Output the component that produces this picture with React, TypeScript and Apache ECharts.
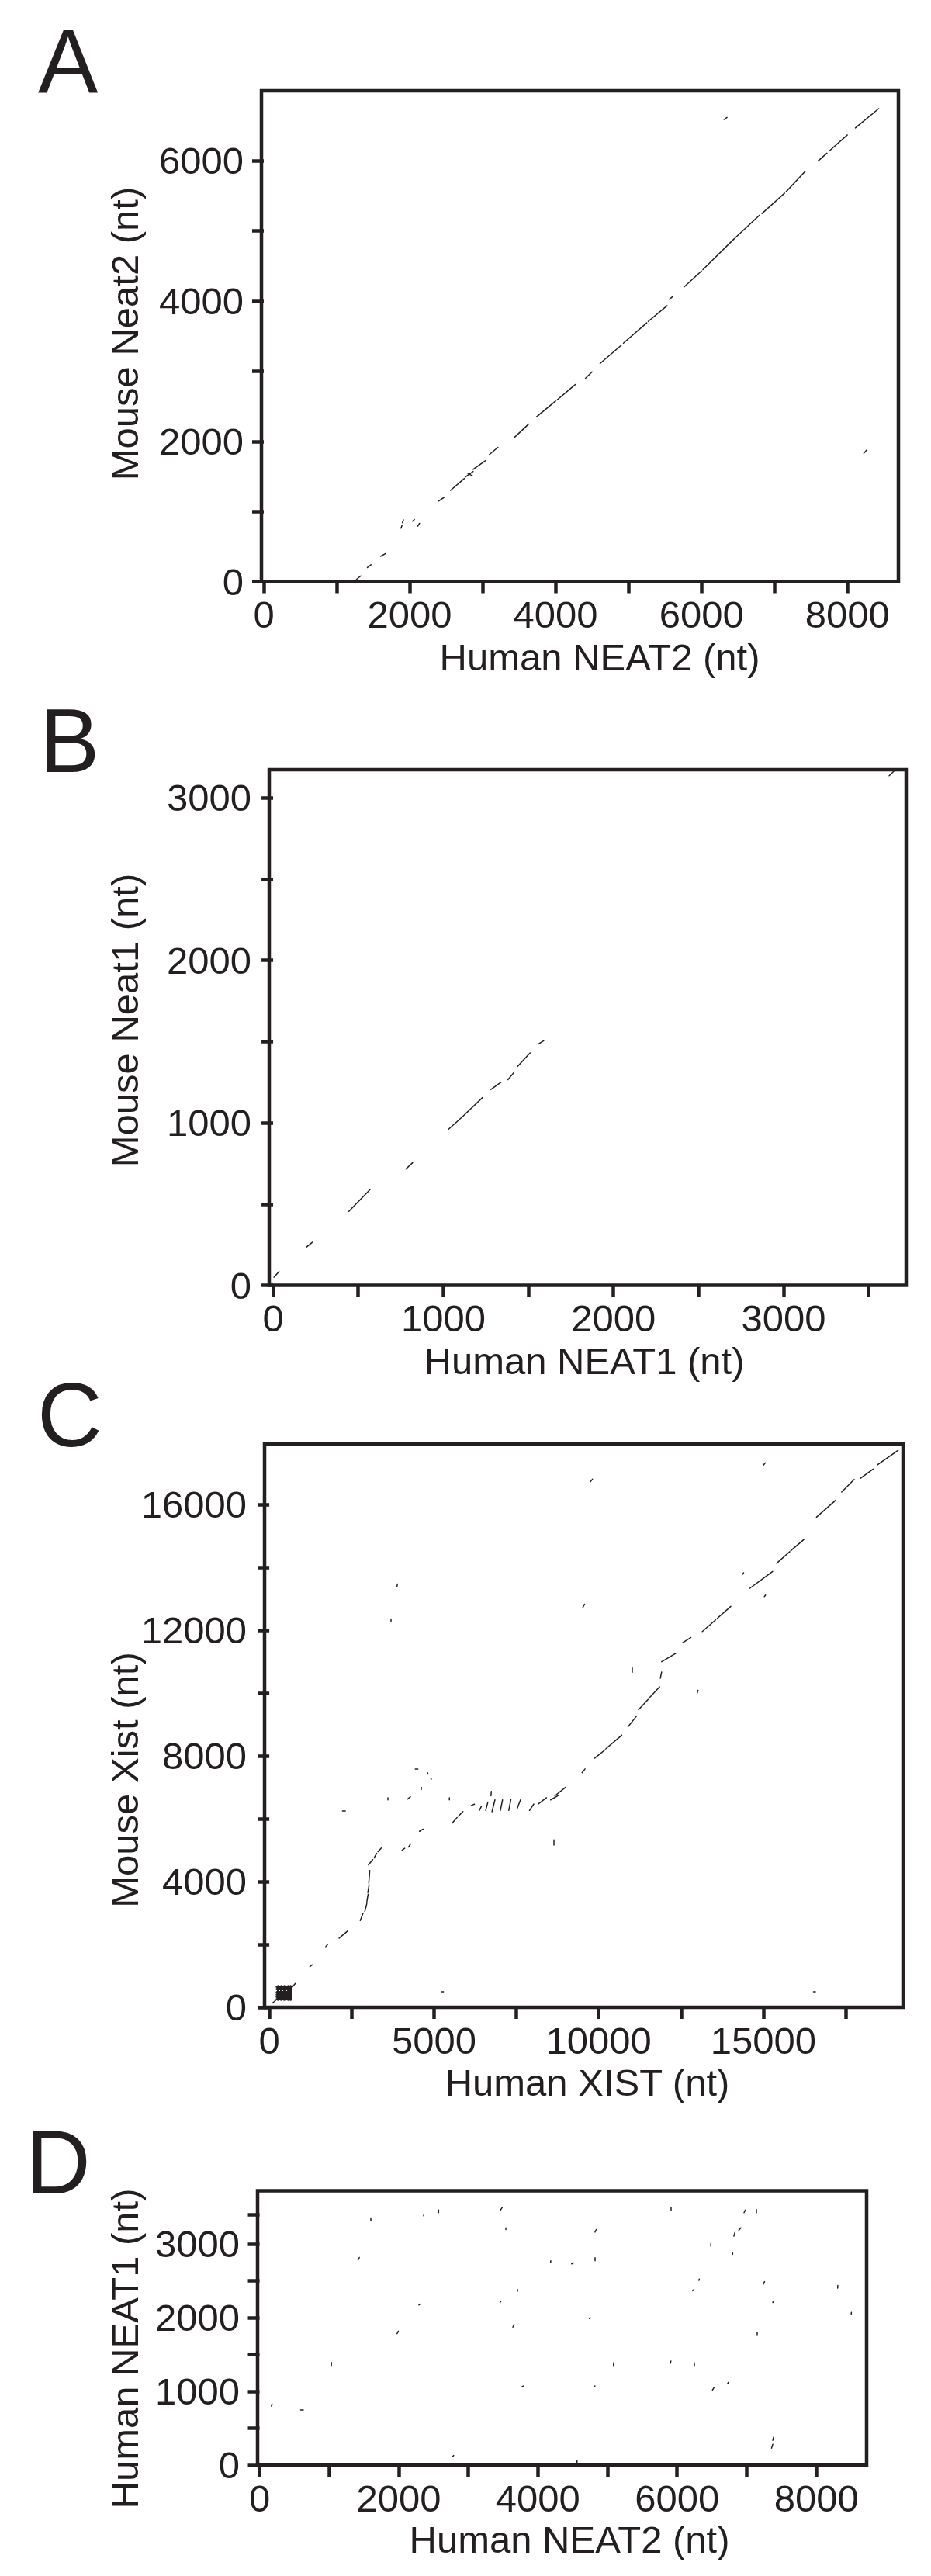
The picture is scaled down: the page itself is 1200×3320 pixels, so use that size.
import React, { useEffect, useRef } from "react";
import * as echarts from "echarts";

const INK = "#231f20";
const FONT = '"Liberation Sans", Arial, Helvetica, sans-serif';

// ---------- Panel A : Human NEAT2 (x) vs Mouse Neat2 (y), dot-plot segments [x1, y1, x2, y2] in nt
const neat2Segments = [
  [1270, 30, 1330, 80],
  [1420, 200, 1470, 240],
  [1600, 360, 1670, 400],
  [1880, 760, 1895, 800],
  [1900, 840, 1915, 880],
  [2040, 860, 2065, 885],
  [2110, 790, 2135, 830],
  [2400, 1150, 2470, 1200],
  [2560, 1300, 2750, 1470],
  [2760, 1490, 2870, 1570],
  [2800, 1540, 2860, 1510],
  [2870, 1600, 3040, 1725],
  [3090, 1810, 3210, 1915],
  [3440, 2060, 3630, 2245],
  [3740, 2350, 4000, 2575],
  [4020, 2590, 4270, 2810],
  [4410, 2900, 4500, 2990],
  [4610, 3110, 4900, 3370],
  [4930, 3400, 5250, 3690],
  [5270, 3710, 5530, 3935],
  [5560, 4025, 5600, 4060],
  [5760, 4200, 6000, 4430],
  [6020, 4450, 6450, 4890],
  [6460, 4900, 6800, 5230],
  [6830, 5250, 7140, 5540],
  [7160, 5560, 7420, 5850],
  [7600, 6000, 7720, 6110],
  [7750, 6140, 8000, 6370],
  [8110, 6470, 8430, 6745],
  [6310, 6590, 6350, 6620],
  [8225, 1830, 8265, 1875],
];

// ---------- Panel B : Human NEAT1 (x) vs Mouse Neat1 (y)
const neat1Segments = [
  [5, 50, 35, 85],
  [195, 235, 230, 265],
  [445, 455, 570, 590],
  [780, 715, 820, 755],
  [1030, 960, 1110, 1035],
  [1115, 1040, 1230, 1155],
  [1280, 1205, 1340, 1250],
  [1380, 1265, 1415, 1310],
  [1435, 1345, 1510, 1430],
  [1560, 1485, 1590, 1505],
  [3620, 3135, 3650, 3165],
];

// ---------- Panel C : Human XIST (x) vs Mouse Xist (y)
const xistSegments = [
  [90, 130, 215, 240],
  [660, 600, 790, 760],
  [1230, 1290, 1300, 1350],
  [1715, 1930, 1770, 2000],
  [2120, 2200, 2380, 2430],
  [2760, 2760, 2850, 3000],
  [2900, 3050, 2960, 3300],
  [2960, 3350, 3000, 3600],
  [2990, 3650, 3030, 3900],
  [3020, 3950, 3050, 4350],
  [3010, 4530, 3140, 4700],
  [3180, 4750, 3260, 4900],
  [3300, 4950, 3400, 5070],
  [4030, 5000, 4110, 5060],
  [4230, 5100, 4290, 5200],
  [4560, 5600, 4670, 5670],
  [5550, 5860, 5700, 6040],
  [5740, 6080, 5880, 6230],
  [6130, 6425, 6230, 6465],
  [6380, 6270, 6440, 6400],
  [6570, 6265, 6635, 6530],
  [6730, 6730, 6740, 6870],
  [6760, 6225, 6850, 6600],
  [7015, 6265, 7080, 6600],
  [7270, 6265, 7335, 6625],
  [7525, 6330, 7625, 6600],
  [7900, 6265, 8030, 6470],
  [8160, 6470, 8415, 6670],
  [8540, 6600, 8800, 6760],
  [8670, 6730, 8990, 7000],
  [8630, 5160, 8632, 5330],
  [9495, 7465, 9585, 7585],
  [9880, 7930, 10200, 8200],
  [10220, 8230, 10700, 8660],
  [10890, 8930, 11150, 9270],
  [11210, 9470, 11500, 9800],
  [11520, 9830, 11850, 10200],
  [11870, 10470, 11910, 10670],
  [11910, 11000, 12350, 11270],
  [12545, 11600, 12800, 11770],
  [13145, 11960, 13550, 12330],
  [13600, 12380, 14010, 12760],
  [14360, 13770, 14400, 13830],
  [14580, 13330, 15280, 13870],
  [15030, 13070, 15065, 13120],
  [15400, 14130, 15800, 14500],
  [15830, 14530, 16230, 14890],
  [16610, 15600, 17185, 16130],
  [17375, 16400, 17755, 16800],
  [17950, 16840, 18330, 17130],
  [18455, 17260, 19090, 17730],
  [9750, 16730, 9810, 16810],
  [15000, 17260, 15060, 17330],
  [3877, 13400, 3890, 13470],
  [3686, 12270, 3688, 12360],
  [9520, 12730, 9570, 12830],
  [11020, 10660, 11022, 10800],
  [12990, 10000, 13015, 10090],
  [2220, 6266, 2310, 6266],
  [3584, 6600, 3586, 6670],
  [4195, 6625, 4285, 6700],
  [4430, 7600, 4510, 7600],
  [4800, 7470, 4820, 7420],
  [4900, 7300, 4920, 7260],
  [4600, 6930, 4605, 7000],
  [5466, 6600, 5468, 6670],
  [5230, 490, 5290, 500],
  [16520, 490, 16580, 500],
];
// dense repeat cluster near the XIST 5' end
const xistCluster = [
  [230, 260, 660, 260],
  [230, 340, 660, 340],
  [230, 420, 660, 420],
  [230, 500, 660, 500],
  [230, 580, 660, 580],
  [230, 650, 660, 650],
  [260, 240, 260, 670],
  [360, 240, 360, 670],
  [460, 240, 460, 670],
  [560, 240, 560, 670],
  [640, 240, 640, 670],
];

// ---------- Panel D : Human NEAT2 (x) vs Human NEAT1 (y)
const neat2Neat1Segments = [
  [170, 800, 180, 830],
  [590, 750, 630, 754],
  [1032, 1350, 1034, 1390],
  [1415, 2780, 1435, 2815],
  [1599, 3310, 1601, 3352],
  [1976, 1782, 1995, 1817],
  [2290, 2170, 2305, 2182],
  [2358, 3380, 2362, 3400],
  [2572, 3423, 2574, 3460],
  [2773, 116, 2790, 130],
  [3457, 3451, 3487, 3493],
  [3540, 3194, 3542, 3218],
  [3457, 2206, 3469, 2223],
  [3640, 1870, 3658, 1906],
  [3705, 2357, 3707, 2382],
  [3770, 1062, 3790, 1073],
  [4183, 2745, 4185, 2770],
  [4484, 2728, 4514, 2742],
  [4821, 2770, 4823, 2813],
  [4820, 3158, 4839, 3194],
  [4738, 1987, 4750, 2001],
  [4809, 1062, 4821, 1073],
  [4561, 25, 4563, 60],
  [5086, 1350, 5088, 1387],
  [5912, 3451, 5914, 3493],
  [5900, 1376, 5912, 1411],
  [6242, 1350, 6244, 1387],
  [6225, 2364, 6242, 2382],
  [6313, 2505, 6319, 2523],
  [6484, 2971, 6486, 3006],
  [6508, 1016, 6531, 1051],
  [6726, 1105, 6738, 1122],
  [6797, 2858, 6799, 2876],
  [6815, 3105, 6832, 3158],
  [6886, 3183, 6916, 3218],
  [6962, 3423, 6980, 3458],
  [7139, 3423, 7141, 3465],
  [7239, 2453, 7257, 2488],
  [7375, 2206, 7392, 2223],
  [7145, 1757, 7147, 1800],
  [7375, 335, 7387, 380],
  [7357, 230, 7375, 282],
  [8307, 2400, 8309, 2435],
  [8502, 2047, 8504, 2071],
];

// ---------- axis ticks / labels
const neat2Ticks = [0, 1000, 2000, 3000, 4000, 5000, 6000, 7000, 8000];
const neat2Labels = [0, 2000, 4000, 6000, 8000];
const mouseNeat2Ticks = [0, 1000, 2000, 3000, 4000, 5000, 6000];
const mouseNeat2Labels = [0, 2000, 4000, 6000];
const neat1Ticks = [0, 500, 1000, 1500, 2000, 2500, 3000, 3500];
const neat1Labels = [0, 1000, 2000, 3000];
const mouseNeat1Ticks = [0, 500, 1000, 1500, 2000, 2500, 3000];
const mouseNeat1Labels = [0, 1000, 2000, 3000];
const xistTicks = [0, 2500, 5000, 7500, 10000, 12500, 15000, 17500];
const xistLabels = [0, 5000, 10000, 15000];
const mouseXistTicks = [0, 2000, 4000, 6000, 8000, 10000, 12000, 14000, 16000];
const mouseXistLabels = [0, 4000, 8000, 12000, 16000];
const humanNeat1Ticks = [0, 500, 1000, 1500, 2000, 2500, 3000, 3400];
const humanNeat1Labels = [0, 1000, 2000, 3000];

const panels = [
  {
    letter: "A", letterPos: [49, 80],
    grid: { left: 337, top: 117, width: 821, height: 632.5 },
    x: { min: -32, max: 8700, ticks: neat2Ticks, labels: neat2Labels },
    y: { min: 0, max: 7000, ticks: mouseNeat2Ticks, labels: mouseNeat2Labels },
    xTitle: "Human NEAT2 (nt)", xTitlePos: [773, 847],
    yTitle: "Mouse Neat2 (nt)", yTitlePos: [161, 430],
    segs: [neat2Segments],
  },
  {
    letter: "B", letterPos: [51, 955],
    grid: { left: 347, top: 992, width: 821, height: 664.6 },
    x: { min: -23, max: 3720, ticks: neat1Ticks, labels: neat1Labels },
    y: { min: 0, max: 3172, ticks: mouseNeat1Ticks, labels: mouseNeat1Labels },
    xTitle: "Human NEAT1 (nt)", xTitlePos: [753, 1754],
    yTitle: "Mouse Neat1 (nt)", yTitlePos: [161, 1315],
    segs: [neat1Segments],
  },
  {
    letter: "C", letterPos: [48, 1824],
    grid: { left: 341, top: 1861, width: 823, height: 726 },
    x: { min: -144, max: 19240, ticks: xistTicks, labels: xistLabels },
    y: { min: 0, max: 17930, ticks: mouseXistTicks, labels: mouseXistLabels },
    xTitle: "Human XIST (nt)", xTitlePos: [757, 2684],
    yTitle: "Mouse Xist (nt)", yTitlePos: [161, 2294],
    segs: [xistSegments, xistCluster],
  },
  {
    letter: "D", letterPos: [33, 2787],
    grid: { left: 332, top: 2823.5, width: 785, height: 353.5 },
    x: { min: -28, max: 8723, ticks: neat2Ticks, labels: neat2Labels },
    y: { min: 0, max: 3720, ticks: humanNeat1Ticks, labels: humanNeat1Labels },
    xTitle: "Human NEAT2 (nt)", xTitlePos: [734, 3273],
    yTitle: "Human NEAT1 (nt)", yTitlePos: [161, 3027],
    segs: [neat2Neat1Segments],
  },
];

function textEl(text: string, x: number, y: number, size: number, align: string, rotation = 0) {
  return {
    type: "text",
    x,
    y,
    rotation,
    silent: true,
    style: {
      text,
      x: 0,
      y: 0,
      fill: INK,
      font: `${size}px ${FONT}`,
      textAlign: align,
      align,
      textVerticalAlign: "middle",
      verticalAlign: "middle",
    },
  };
}

export default function App() {
  const ref = useRef<HTMLDivElement | null>(null);

  useEffect(() => {
    if (!ref.current) return;
    const chart = echarts.init(ref.current, undefined, { renderer: "svg" });

    const labelStyle = { fontSize: 49, fontFamily: FONT, color: INK };
    const tickStyle = { show: true, inside: false, length: 15, lineStyle: { color: INK, width: 4.5 } };

    const grid = panels.map((p) => ({
      ...p.grid,
      show: true,
      borderColor: INK,
      borderWidth: 4.5,
      backgroundColor: "#ffffff",
      containLabel: false,
    }));

    const xAxis = panels.map((p, i) => ({
      type: "value",
      gridIndex: i,
      min: p.x.min,
      max: p.x.max,
      axisLine: { show: false },
      splitLine: { show: false },
      axisTick: { ...tickStyle, customValues: p.x.ticks },
      axisLabel: {
        ...labelStyle,
        margin: 18,
        customValues: p.x.labels,
        hideOverlap: false,
        formatter: (v: number) => String(v),
      },
    }));

    const yAxis = panels.map((p, i) => ({
      type: "value",
      gridIndex: i,
      min: p.y.min,
      max: p.y.max,
      axisLine: { show: false },
      splitLine: { show: false },
      axisTick: { ...tickStyle, customValues: p.y.ticks },
      axisLabel: {
        ...labelStyle,
        margin: 23,
        customValues: p.y.labels,
        hideOverlap: false,
        formatter: (v: number) => String(v),
      },
    }));

    const series: any[] = [];
    panels.forEach((p, i) => {
      p.segs.forEach((arr, k) => {
        series.push({
          type: "lines",
          coordinateSystem: "cartesian2d",
          xAxisIndex: i,
          yAxisIndex: i,
          silent: true,
          polyline: false,
          lineStyle: { color: INK, width: k === 0 ? 1.5 : 3, opacity: 1, cap: "round" },
          data: arr.map((s) => ({ coords: [[s[0], s[1]], [s[2], s[3]]] })),
        });
      });
    });

    const graphic: any[] = [];
    panels.forEach((p) => {
      graphic.push(textEl(p.letter, p.letterPos[0], p.letterPos[1], 116, "left"));
      graphic.push(textEl(p.xTitle, p.xTitlePos[0], p.xTitlePos[1], 49, "center"));
      graphic.push(textEl(p.yTitle, p.yTitlePos[0], p.yTitlePos[1], 49, "center", Math.PI / 2));
    });

    chart.setOption({
      animation: false,
      backgroundColor: "#ffffff",
      grid,
      xAxis,
      yAxis,
      series,
      graphic,
    });

    return () => chart.dispose();
  }, []);

  return (
    <div
      ref={ref}
      style={{ position: "absolute", left: 0, top: 0, width: 1200, height: 3320, background: "#fff" }}
    />
  );
}
